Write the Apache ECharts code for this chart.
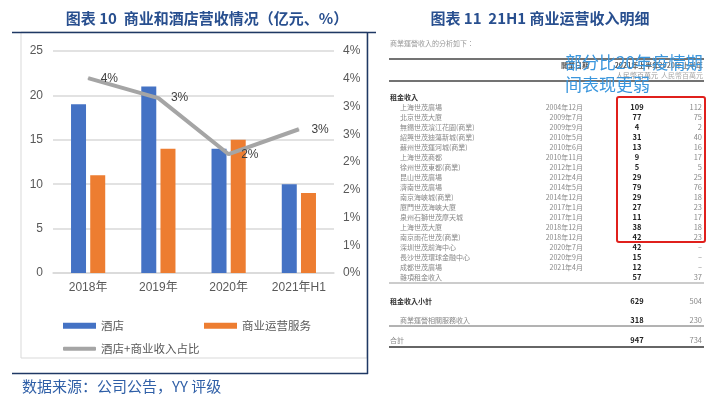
<!DOCTYPE html>
<html>
<head>
<meta charset="utf-8">
<script src="https://cdn.jsdelivr.net/npm/echarts@6/dist/echarts.min.js"></script>
<style>
  html, body { margin: 0; padding: 0; background: #fff; }
  #main { width: 724px; height: 396px; }
</style>
</head>
<body>
<div id="main"></div>
<script>
// left chart data
const years = ["2018年", "2019年", "2020年", "2021年H1"];
const hotelRevenue = [19, 21, 14, 10];
const commercialRevenue = [11, 14, 15, 9];
const shareRatio = [0.0351, 0.0315, 0.0214, 0.0259];

// right table data (人民幣百萬元)
const mallNames = [
  "上海世茂廣場", "北京世茂大廈", "無錫世茂濱江花園(商業)", "紹興世茂迪蕩新城(商業)",
  "蘇州世茂運河城(商業)", "上海世茂商都", "徐州世茂東都(商業)", "昆山世茂廣場",
  "濟南世茂廣場", "南京海峽城(商業)", "廈門世茂海峽大廈", "泉州石獅世茂摩天城",
  "上海世茂大廈", "南京雨花世茂(商業)", "深圳世茂前海中心", "長沙世茂環球金融中心",
  "成都世茂廣場", "雜項租金收入"
];
const openDates = [
  "2004年12月", "2009年7月", "2009年9月", "2010年5月", "2010年6月", "2010年11月",
  "2012年1月", "2012年4月", "2014年5月", "2014年12月", "2017年1月", "2017年1月",
  "2018年12月", "2018年12月", "2020年7月", "2020年9月", "2021年4月", ""
];
const rent2021 = ["109", "77", "4", "31", "13", "9", "5", "29", "79", "29", "27", "11", "38", "42", "42", "15", "12", "57"];
const rent2020 = ["112", "75", "2", "40", "16", "17", "5", "25", "76", "18", "23", "17", "18", "23", "–", "–", "–", "37"];
const totalLabels = ["租金收入小計", "商業運營相關服務收入", "合計"];
const total2021 = ["629", "318", "947"];
const total2020 = ["504", "230", "734"];

const cjk = '"Noto Sans CJK SC", "Noto Sans CJK TC", sans-serif';
const tc = '"Noto Sans CJK TC", sans-serif';
const axisFont = '"Liberation Sans", "Noto Sans CJK SC", sans-serif';

function pct(v) {
  return Math.round(Math.round(v * 1000) / 10) + "%";
}

function txt(text, x, y, font, fill, align) {
  return {
    type: "text",
    silent: true,
    style: { text: text, x: x, y: y, font: font, fill: fill, align: align || "left", verticalAlign: "middle" }
  };
}

function hline(x1, x2, y, color, w) {
  return {
    type: "line",
    silent: true,
    shape: { x1: x1, y1: y, x2: x2, y2: y },
    style: { stroke: color, lineWidth: w }
  };
}

const graphics = [];
// titles
graphics.push(txt("图表 10  商业和酒店营收情况（亿元、%）", 207, 18, "bold 15px " + cjk, "#284f8f", "center"));
graphics.push(txt("图表 11  21H1 商业运营收入明细", 540, 18, "bold 15px " + cjk, "#284f8f", "center"));
graphics.push(txt("数据来源：公司公告，YY 评级", 22, 386, "15px " + cjk, "#2f5fa7"));

// frames
graphics.push({ type: "rect", silent: true, shape: { x: 21, y: 32, width: 346, height: 326 }, style: { fill: "none", stroke: "#d9d9d9", lineWidth: 1 } });
graphics.push(hline(12, 376, 32.5, "#1f3864", 1.5));
graphics.push(hline(12, 368, 373.5, "#1f3864", 1.5));
graphics.push({ type: "line", silent: true, shape: { x1: 367.5, y1: 32, x2: 367.5, y2: 374 }, style: { stroke: "#1f3864", lineWidth: 1.5 } });

// table header
graphics.push(txt("商業運營收入的分析如下：", 390, 43, "7px " + tc, "#999"));
graphics.push(hline(389, 704, 59, "#444", 1.5));
graphics.push(txt("開業日期", 575, 65, "bold 7px " + tc, "#555", "center"));
graphics.push(txt("2021年上半年", 637, 65, "bold 7px " + tc, "#555", "center"));
graphics.push(txt("2020年上半年", 703, 65, "bold 7px " + tc, "#777", "right"));
graphics.push(txt("人民幣百萬元", 637, 75, "7px " + tc, "#999", "center"));
graphics.push(txt("人民幣百萬元", 703, 75, "7px " + tc, "#aaa", "right"));
graphics.push(hline(389, 704, 81, "#444", 1.5));
graphics.push(txt("租金收入", 390, 97, "bold 7px " + tc, "#333"));

mallNames.forEach(function (name, i) {
  const y = 107 + i * 10;
  graphics.push(txt(name, 400, y, "7px " + tc, "#888"));
  graphics.push(txt(openDates[i], 583, y, "7px " + tc, "#888", "right"));
  graphics.push(txt(rent2021[i], 637, y, "bold 7.5px " + tc, "#222", "center"));
  graphics.push(txt(rent2020[i], 702, y, "7.5px " + tc, "#888", "right"));
});
graphics.push(hline(389, 704, 283, "#999", 1));

const totalY = [301, 320, 340];
totalLabels.forEach(function (name, i) {
  const bold = i === 0;
  graphics.push(txt(name, i === 1 ? 400 : 390, totalY[i], (bold ? "bold " : "") + "7px " + tc, bold ? "#333" : "#888"));
  graphics.push(txt(total2021[i], 637, totalY[i], "bold 7.5px " + tc, "#222", "center"));
  graphics.push(txt(total2020[i], 702, totalY[i], "7.5px " + tc, "#888", "right"));
});
graphics.push(hline(389, 704, 326, "#666", 1));
graphics.push(hline(389, 704, 347, "#333", 1.5));

// annotation
graphics.push({
  type: "rect",
  silent: true,
  shape: { x: 617, y: 97, width: 88, height: 145, r: 2 },
  style: { fill: "none", stroke: "#e0201c", lineWidth: 2 }
});
graphics.push(txt("部分比20年疫情期", 565, 63, "17px " + cjk, "#3a96dd"));
graphics.push(txt("间表现更弱", 565, 85, "17px " + cjk, "#3a96dd"));

const chart = echarts.init(document.getElementById("main"));
const option = {
  animation: false,
  backgroundColor: "#fff",
  grid: { left: 53, right: 390, top: 51, bottom: 123 },
  legend: [
    {
      data: ["酒店"],
      left: 58, top: 315,
      itemWidth: 33, itemHeight: 6,
      icon: "rect",
      textStyle: { color: "#595959", fontSize: 11.5, fontFamily: cjk }
    },
    {
      data: ["商业运营服务"],
      left: 199, top: 315,
      itemWidth: 33, itemHeight: 6,
      icon: "rect",
      textStyle: { color: "#595959", fontSize: 11.5, fontFamily: cjk }
    },
    {
      data: ["酒店+商业收入占比"],
      left: 58, top: 338,
      itemWidth: 33, itemHeight: 4,
      icon: "roundRect",
      itemStyle: { color: "#a5a5a5" },
      textStyle: { color: "#595959", fontSize: 11.5, fontFamily: cjk }
    }
  ],
  xAxis: {
    type: "category",
    data: years,
    axisLine: { lineStyle: { color: "#d9d9d9", width: 1.5 } },
    axisTick: { show: false },
    axisLabel: { color: "#595959", fontSize: 12, margin: 9, fontFamily: axisFont }
  },
  yAxis: [
    {
      type: "value",
      min: 0, max: 25, interval: 5,
      axisLine: { show: false },
      axisTick: { show: false },
      axisLabel: { color: "#595959", fontSize: 12, margin: 10, fontFamily: axisFont },
      splitLine: { lineStyle: { color: "#d9d9d9", width: 1.5 } }
    },
    {
      type: "value",
      min: 0, max: 0.04, interval: 0.005,
      axisLine: { show: false },
      axisTick: { show: false },
      axisLabel: { color: "#595959", fontSize: 12, margin: 9, fontFamily: axisFont, formatter: pct },
      splitLine: { show: false }
    }
  ],
  series: [
    {
      name: "酒店",
      type: "bar",
      data: hotelRevenue,
      barWidth: 15,
      barGap: "28%",
      itemStyle: { color: "#4472c4" }
    },
    {
      name: "商业运营服务",
      type: "bar",
      data: commercialRevenue,
      barWidth: 15,
      barGap: "28%",
      itemStyle: { color: "#ed7d31" }
    },
    {
      name: "酒店+商业收入占比",
      type: "line",
      yAxisIndex: 1,
      data: shareRatio,
      symbol: "circle",
      symbolSize: 1,
      showSymbol: true,
      itemStyle: { color: "#a5a5a5" },
      lineStyle: { color: "#a5a5a5", width: 4 },
      label: {
        show: true,
        position: "right",
        distance: 12,
        color: "#404040",
        fontSize: 12,
        fontFamily: axisFont,
        formatter: function (p) { return pct(p.value); }
      }
    }
  ],
  graphic: graphics
};
chart.setOption(option);
window.addEventListener("resize", function () {
  chart.resize();
});
</script>
</body>
</html>
